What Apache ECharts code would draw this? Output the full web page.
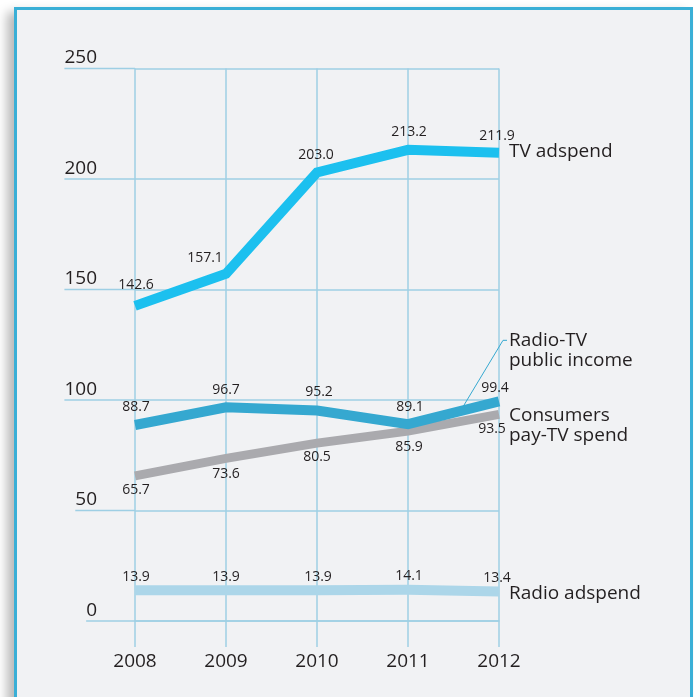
<!DOCTYPE html>
<html><head><meta charset="utf-8">
<script src="https://cdn.jsdelivr.net/npm/echarts@6/dist/echarts.min.js"></script>
<style>
html,body{margin:0;padding:0;background:#fff;overflow:hidden;}
#frame{position:absolute;left:14px;top:7px;width:673px;height:720px;border:3px solid #3aafd6;background:#f1f2f4;box-shadow:-7px 5px 10px rgba(0,0,0,0.28);}
#chart{position:absolute;left:0;top:0;width:694px;height:697px;}
</style></head><body>
<div id="frame"></div><div id="chart"></div>
<script>
// ---- data ----
const years = ['2008', '2009', '2010', '2011', '2012'];
const tvAdspend = [142.6, 157.1, 203.0, 213.2, 211.9];
const publicIncome = [88.7, 96.7, 95.2, 89.1, 99.4];
const payTVSpend = [65.7, 73.6, 80.5, 85.9, 93.5];
const radioAdspend = [13.9, 13.9, 13.9, 14.1, 13.4];
const yTicks = [0, 50, 100, 150, 200, 250];
const seriesNames = ['Radio adspend', 'Consumers\npay-TV spend', 'Radio-TV\npublic income', 'TV adspend'];

// ---- styling ----
const FONT = '"Open Sans", "Noto Sans", sans-serif';
const TXT = '#231f20';
const GRIDC = '#9ecfe4';
const GRID = {left: 135, right: 195, top: 68.5, bottom: 76};
const YLAB_MARGIN = 38;
const YLAB_SIZE = 19;
const nudges = {
  tv: [[1,-3],[-21,2],[-1,0],[1,0],[-2,1]],
  pub: [[1,0],[0,0],[2,-1],[2,0],[-4,4]],
  pay: [[1,0],[0,1],[0,-1],[1,1],[-7,0]],
  radio: [[1,0],[0,0],[1,0],[1,0],[-2,0]]
};

function mkSeries(name, values, color, width, pos, dist, nud, endOffset) {
  return {
    name: name, type: 'line',
    data: values.map((v, i) => ({value: v, label: {offset: nud[i]}})),
    symbol: 'circle', symbolSize: 1, showSymbol: true,
    itemStyle: {color: 'rgba(0,0,0,0)', borderWidth: 0},
    lineStyle: {color: color, width: width, cap: 'butt', join: 'miter'},
    label: {show: true, position: pos, distance: dist, fontSize: 14, color: TXT, fontFamily: FONT,
            formatter: p => Number(p.value).toFixed(1)},
    endLabel: {show: true, formatter: name, distance: 10, offset: endOffset, fontSize: 19,
               lineHeight: 20, color: TXT, fontFamily: FONT, align: 'left', verticalAlign: 'middle'},
    emphasis: {disabled: true},
    animation: false
  };
}

const option = {
  animation: false,
  backgroundColor: 'transparent',
  grid: GRID,
  xAxis: {
    type: 'category', data: years, boundaryGap: false,
    axisLine: {show: true, lineStyle: {color: GRIDC, width: 1.5}},
    axisTick: {show: true, length: 26, lineStyle: {color: GRIDC, width: 1.5}},
    splitLine: {show: true, lineStyle: {color: GRIDC, width: 1.5}},
    axisLabel: {margin: 31, fontSize: 19, color: TXT, fontFamily: FONT}
  },
  yAxis: {
    type: 'value', min: 0, max: 250, interval: 50,
    axisLine: {show: false}, axisTick: {show: false},
    splitLine: {show: true, lineStyle: {color: GRIDC, width: 1.5}},
    axisLabel: {margin: YLAB_MARGIN, fontSize: YLAB_SIZE, color: TXT, fontFamily: FONT, verticalAlign: 'bottom', padding: [0,0,1,0]}
  },
  series: [
    mkSeries(seriesNames[0], radioAdspend, '#acd6e9', 10, 'top', 6, nudges.radio, [0, 2]),
    mkSeries(seriesNames[1], payTVSpend, '#aaaaae', 9, 'bottom', 7, nudges.pay, [0, 11]),
    mkSeries(seriesNames[2], publicIncome, '#35a8d0', 10, 'top', 10, nudges.pub, [0, -51]),
    mkSeries(seriesNames[3], tvAdspend, '#1cc0ef', 10, 'top', 10, nudges.tv, [0, -1])
  ]
};

const chart = echarts.init(document.getElementById('chart'), null, {renderer: 'canvas'});
chart.setOption(option);

// gridline extensions to the left under the tick labels + leader line
const ctx = document.createElement('canvas').getContext('2d');
ctx.font = YLAB_SIZE + 'px ' + FONT;
const labelRight = GRID.left - YLAB_MARGIN;
const gfx = [];
yTicks.forEach(t => {
  const y = chart.convertToPixel({yAxisIndex: 0}, t);
  const w = ctx.measureText(String(t)).width;
  gfx.push({type: 'line', silent: true, z: 1,
    shape: {x1: labelRight - w, y1: y, x2: GRID.left, y2: y},
    style: {stroke: GRIDC, lineWidth: 1.5}});
});
const a = chart.convertToPixel({seriesIndex: 2}, [years[3], publicIncome[3]]);
const b = chart.convertToPixel({seriesIndex: 2}, [years[4], publicIncome[4]]);
const anchor = [a[0] + 0.6 * (b[0] - a[0]), a[1] + 0.6 * (b[1] - a[1]) - 3];
gfx.push({type: 'polyline', silent: true, z: 1,
  shape: {points: [anchor, [b[0] + 4, b[1] - 61], [b[0] + 8, b[1] - 61]]},
  style: {stroke: '#35a8d0', lineWidth: 1, fill: null}});
chart.setOption({graphic: gfx});
</script>
</body></html>
